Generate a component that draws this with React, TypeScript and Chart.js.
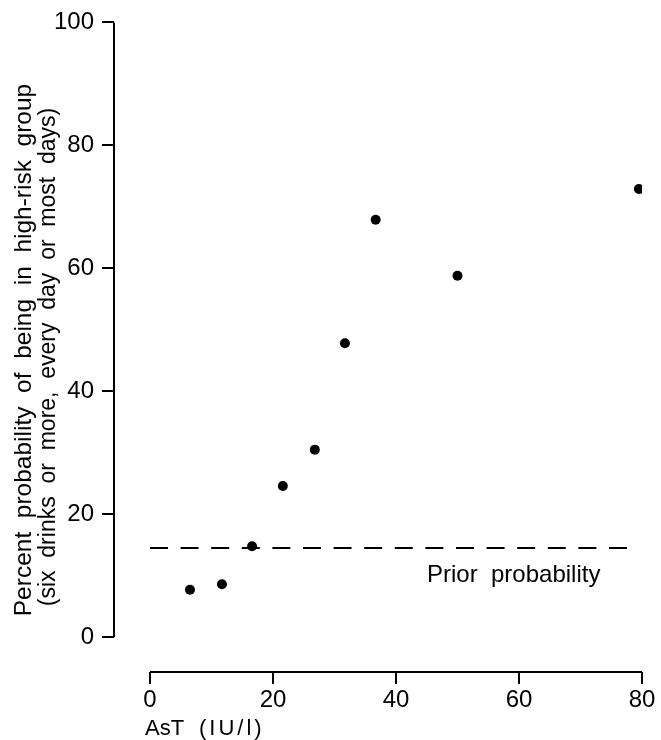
import React, { useEffect, useRef } from 'react';
import { Chart, registerables } from 'chart.js';

Chart.register(...registerables);

// ---- data ----
const astValues = [6.5, 11.7, 16.6, 21.6, 26.8, 31.7, 36.7, 50.0, 79.5];
const probValues = [7.7, 8.6, 14.8, 24.6, 30.5, 47.8, 67.9, 58.8, 72.9];
const priorProbability = 14.5;
const priorFrom = 0;
const priorTo = 78.4;
const xTickValues = [0, 20, 40, 60, 80];
const yTickValues = [0, 20, 40, 60, 80, 100];
const yTitleLines = [
  'Percent  probability  of  being  in  high-risk  group',
  '(six  drinks  or  more,  every  day  or  most  days)',
];
const xTitleParts = ['AsT', '(IU/l)'];
const priorLabel = 'Prior  probability';

const FONT = '"Liberation Sans", Arial, sans-serif';

const axesPlugin = {
  id: 'customAxes',
  afterDraw(chart: any) {
    const { ctx, chartArea, scales } = chart;
    const xs = scales.x;
    const ys = scales.y;
    ctx.save();
    ctx.strokeStyle = '#000';
    ctx.lineWidth = 2;
    ctx.setLineDash([]);
    // y axis line
    ctx.beginPath();
    ctx.moveTo(chartArea.left, ys.getPixelForValue(yTickValues[0]));
    ctx.lineTo(chartArea.left, ys.getPixelForValue(yTickValues[yTickValues.length - 1]));
    ctx.stroke();
    // x axis line
    ctx.beginPath();
    ctx.moveTo(xs.getPixelForValue(xTickValues[0]), chartArea.bottom);
    ctx.lineTo(xs.getPixelForValue(xTickValues[xTickValues.length - 1]), chartArea.bottom);
    ctx.stroke();

    ctx.fillStyle = '#000';
    // prior probability label
    ctx.font = `24px ${FONT}`;
    ctx.textAlign = 'left';
    ctx.textBaseline = 'alphabetic';
    ctx.fillText(priorLabel, 427, 582);

    // x title
    ctx.font = `22px ${FONT}`;
    ctx.fillText(xTitleParts[0], 145, 735);
    (ctx as any).letterSpacing = '3px';
    ctx.fillText(xTitleParts[1], 199, 735);
    (ctx as any).letterSpacing = '0px';

    // y title (two lines)
    ctx.textAlign = 'center';
    ctx.textBaseline = 'middle';
    const lines = [
      { x: 24, y: 350, size: 24.5 },
      { x: 49, y: 357, size: 23 },
    ];
    yTitleLines.forEach((line, i) => {
      ctx.save();
      ctx.font = `${lines[i].size}px ${FONT}`;
      ctx.translate(lines[i].x, lines[i].y);
      ctx.rotate(-Math.PI / 2);
      ctx.fillText(line, 0, 0);
      ctx.restore();
    });
    ctx.restore();
  },
};

export default function App() {
  const canvasRef = useRef<HTMLCanvasElement | null>(null);

  useEffect(() => {
    if (!canvasRef.current) return;
    const points = astValues.map((x, i) => ({ x, y: probValues[i] }));
    const chart = new Chart(canvasRef.current, {
      type: 'scatter',
      data: {
        datasets: [
          {
            type: 'line',
            data: [
              { x: priorFrom, y: priorProbability },
              { x: priorTo, y: priorProbability },
            ],
            borderColor: '#000',
            borderWidth: 2,
            borderDash: [18, 12.6],
            pointRadius: 0,
            fill: false,
          } as any,
          {
            data: points,
            backgroundColor: '#000',
            borderColor: '#000',
            pointRadius: 5,
            pointBorderWidth: 0,
          },
        ],
      },
      options: {
        animation: false,
        responsive: true,
        maintainAspectRatio: false,
        devicePixelRatio: 1,
        layout: { padding: { top: 20, right: 19, left: 0, bottom: 0 } },
        plugins: {
          legend: { display: false },
          tooltip: { enabled: false },
        },
        scales: {
          x: {
            type: 'linear',
            min: -5.85,
            max: 80,
            afterFit: (s: any) => {
              s.height = 68;
            },
            afterBuildTicks: (s: any) => {
              s.ticks = xTickValues.map((v) => ({ value: v }));
            },
            border: { display: false },
            grid: {
              drawOnChartArea: false,
              drawTicks: true,
              tickLength: 12,
              color: '#000',
              lineWidth: 2,
            },
            ticks: {
              color: '#000',
              font: { family: FONT, size: 24 },
              padding: 2,
              maxRotation: 0,
              autoSkip: false,
            },
          },
          y: {
            type: 'linear',
            min: -5.67,
            max: 100,
            afterFit: (s: any) => {
              s.width = 114;
            },
            afterBuildTicks: (s: any) => {
              s.ticks = yTickValues.map((v) => ({ value: v }));
            },
            border: { display: false },
            grid: {
              drawOnChartArea: false,
              drawTicks: true,
              tickLength: 12,
              color: '#000',
              lineWidth: 2,
            },
            ticks: {
              color: '#000',
              font: { family: FONT, size: 24 },
              padding: 8,
              autoSkip: false,
            },
          },
        },
      },
      plugins: [axesPlugin],
    });
    return () => chart.destroy();
  }, []);

  return (
    <div style={{ position: 'fixed', left: 0, top: 0, width: 661, height: 740, background: '#fff' }}>
      <canvas ref={canvasRef} />
    </div>
  );
}
